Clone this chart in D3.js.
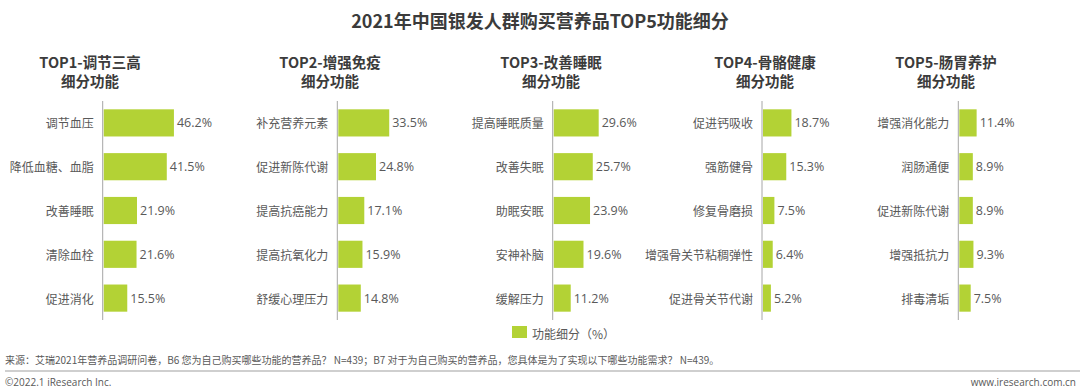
<!DOCTYPE html>
<html><head><meta charset="utf-8">
<script src="https://cdn.jsdelivr.net/npm/d3@7"></script>
<style>
html,body{margin:0;padding:0;background:#fff;}
svg{display:block;font-family:"Noto Sans CJK SC","Open Sans",sans-serif;}
</style></head>
<body>
<svg id="chart" width="1080" height="390"></svg>
<script>
const chartTitle = "2021年中国银发人群购买营养品TOP5功能细分";
const panelTitles = [
  ["TOP1-调节三高","细分功能"],
  ["TOP2-增强免疫","细分功能"],
  ["TOP3-改善睡眠","细分功能"],
  ["TOP4-骨骼健康","细分功能"],
  ["TOP5-肠胃养护","细分功能"]
];
const categories1 = ["调节血压","降低血糖、血脂","改善睡眠","清除血栓","促进消化"];
const values1 = [46.2,41.5,21.9,21.6,15.5];
const categories2 = ["补充营养元素","促进新陈代谢","提高抗癌能力","提高抗氧化力","舒缓心理压力"];
const values2 = [33.5,24.8,17.1,15.9,14.8];
const categories3 = ["提高睡眠质量","改善失眠","助眠安眠","安神补脑","缓解压力"];
const values3 = [29.6,25.7,23.9,19.6,11.2];
const categories4 = ["促进钙吸收","强筋健骨","修复骨磨损","增强骨关节粘稠弹性","促进骨关节代谢"];
const values4 = [18.7,15.3,7.5,6.4,5.2];
const categories5 = ["增强消化能力","润肠通便","促进新陈代谢","增强抵抗力","排毒清垢"];
const values5 = [11.4,8.9,8.9,9.3,7.5];
const legendLabel = "功能细分（%）";
const sourceText = "来源：艾瑞2021年营养品调研问卷，B6 您为自己购买哪些功能的营养品？ N=439；B7 对于为自己购买的营养品，您具体是为了实现以下哪些功能需求？ N=439。";
const footerLeft = "©2022.1 iResearch Inc.";
const footerRight = "www.iresearch.com.cn";

const allCats = [categories1,categories2,categories3,categories4,categories5];
const allVals = [values1,values2,values3,values4,values5];

const svg = d3.select("#chart");
const green = "#b3d235";
const labelColor = "#595959";
const titleColor = "#3b3b3b";

svg.append("text").attr("x",540).attr("y",20).attr("text-anchor","middle")
  .attr("dominant-baseline","central").attr("font-size",18).attr("font-weight","bold")
  .attr("fill",titleColor).text(chartTitle);

const axisX = [102.7, 337.3, 552.7, 762, 958.3];
const titleCX = [90, 330, 551, 765, 946];
const y = d3.scaleBand().domain(d3.range(5)).range([101, 320]).paddingInner(0.38).paddingOuter(0.19);
const x = d3.scaleLinear().domain([0, 50]).range([0, 76]);

allCats.forEach((cats, p) => {
  const g = svg.append("g");
  const x0 = axisX[p];
  panelTitles[p].forEach((t,i)=>{
    g.append("text").attr("text-anchor","middle").attr("font-size",14.5)
      .attr("font-weight","bold").attr("fill",titleColor)
      .attr("x",titleCX[p]).attr("y",61+i*19).attr("dominant-baseline","central").text(t);
  });
  const data = cats.map((c,i)=>({c, v: allVals[p][i], i}));
  g.selectAll("rect").data(data).join("rect")
    .attr("x", x0 + 1).attr("y", d=>y(d.i)).attr("height", y.bandwidth())
    .attr("width", d=>x(d.v)).attr("fill", green);
  g.selectAll("text.val").data(data).join("text").attr("class","val")
    .attr("x", d=>x0 + 1 + x(d.v) + 3).attr("y", d=>y(d.i)+y.bandwidth()/2)
    .attr("dominant-baseline","central").attr("font-size",12.5)
    .attr("font-family","'Open Sans',sans-serif").attr("fill",labelColor)
    .text(d=>d.v.toFixed(1)+"%");
  g.selectAll("text.cat").data(data).join("text").attr("class","cat")
    .attr("x", x0 - 9).attr("y", d=>y(d.i)+y.bandwidth()/2)
    .attr("dominant-baseline","central").attr("text-anchor","end").attr("font-size",12)
    .attr("fill",labelColor).text(d=>d.c);
  g.append("line").attr("x1",x0).attr("x2",x0).attr("y1",101).attr("y2",320)
    .attr("stroke","#a6a6a6").attr("stroke-width",1);
});

// legend
svg.append("rect").attr("x",512).attr("y",326).attr("width",15).attr("height",12).attr("fill",green);
svg.append("text").attr("x",532).attr("y",333).attr("dominant-baseline","central")
  .attr("font-size",12).attr("fill",labelColor).text(legendLabel);

// source and footer
svg.append("text").attr("x",5).attr("y",359).attr("dominant-baseline","central")
  .attr("font-size",10).attr("fill",labelColor).text(sourceText);
svg.append("line").attr("x1",5).attr("x2",1080).attr("y1",371).attr("y2",371)
  .attr("stroke","#bfbfbf").attr("stroke-width",1.5);
svg.append("text").attr("x",5).attr("y",382).attr("dominant-baseline","central")
  .attr("font-size",10).attr("font-family","'Open Sans',sans-serif").attr("fill",labelColor).text(footerLeft);
svg.append("text").attr("x",1076).attr("y",382).attr("dominant-baseline","central").attr("text-anchor","end")
  .attr("font-size",10).attr("font-family","'Open Sans',sans-serif").attr("fill",labelColor).text(footerRight);
</script>
</body></html>
